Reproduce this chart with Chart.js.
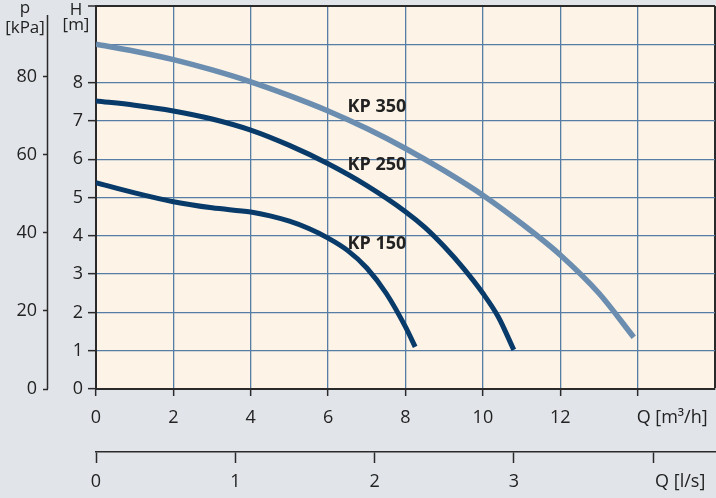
<!DOCTYPE html>
<html>
<head>
<meta charset="utf-8">
<script src="https://cdn.jsdelivr.net/npm/chart.js@4.4.1/dist/chart.umd.min.js"></script>
<style>
    html, body { margin: 0; padding: 0; background: #e1e4e9; }
    #chart { display: block; }
</style>
</head>
<body>
<canvas id="chart" width="716" height="498"></canvas>
<script>
// Kennlinien (Q in m³/h, H in m)
const qKP350 = [0, 1, 2, 3, 4, 5, 6, 7, 8, 9, 10, 11, 12, 13, 13.9];
const hKP350 = [9.0, 8.82, 8.6, 8.33, 8.02, 7.66, 7.26, 6.8, 6.28, 5.7, 5.06, 4.32, 3.5, 2.5, 1.35];

const qKP250 = [0, 1, 2, 3, 4, 5, 6, 7, 8, 8.5, 9, 9.5, 10, 10.4, 10.8];
const hKP250 = [7.52, 7.41, 7.26, 7.05, 6.76, 6.36, 5.88, 5.31, 4.63, 4.22, 3.72, 3.15, 2.5, 1.88, 1.02];

const qKP150 = [0, 1, 2, 3, 4, 4.5, 5, 5.5, 6, 6.5, 7, 7.5, 8, 8.25];
const hKP150 = [5.39, 5.12, 4.89, 4.73, 4.62, 4.52, 4.38, 4.19, 3.94, 3.62, 3.16, 2.5, 1.62, 1.1];

const pumpNames = ['KP 350', 'KP 250', 'KP 150'];
// Beschriftung der Kurven (Q, H)
const nameQ = [6.5, 6.5, 6.5];
const nameH = [7.36, 5.86, 3.8];

const hTicks = [0, 1, 2, 3, 4, 5, 6, 7, 8];
const pTicks = [0, 20, 40, 60, 80];
const qTicks = [0, 2, 4, 6, 8, 10, 12];
const lsTicks = [0, 1, 2, 3];

const H_MAX = 10, Q_MAX = 16;
const KPA_PER_M = 9.81, M3H_PER_LS = 3.6;

const DARK = '#2a2a2a';
const GRID = '#557da6';
const FONT = "'Open Sans', sans-serif";

const toPoints = (qs, hs) => qs.map((q, i) => ({x: q, y: hs[i]}));

const decor = {
    id: 'decor',
    beforeDraw(chart) {
        const {ctx, chartArea: a} = chart;
        ctx.save();
        ctx.fillStyle = '#fdf3e6';
        ctx.fillRect(a.left, a.top, a.right - a.left, a.bottom - a.top);
        ctx.restore();
    },
    afterDraw(chart) {
        const {ctx, scales} = chart;
        const p = scales.p, q = scales.x, ls = scales.ls, h = scales.y;
        ctx.save();
        // p-Achse
        ctx.strokeStyle = DARK;
        ctx.lineWidth = 1.5;
        ctx.beginPath();
        ctx.moveTo(p.right - 0.5, 15);
        ctx.lineTo(p.right - 0.5, p.bottom);
        ctx.stroke();

        ctx.fillStyle = '#222';
        ctx.font = '17px ' + FONT;
        ctx.textAlign = 'center';
        ctx.textBaseline = 'middle';
        ctx.fillText('p', 25, 8);
        ctx.fillText('[kPa]', 25, 28);
        ctx.fillText('H', 76, 10);
        ctx.fillText('[m]', 76, 25);

        // Einheiten an der Q-Achse
        ctx.font = '18px ' + FONT;
        ctx.textAlign = 'left';
        ctx.fillText('Q [m³/h]', q.getPixelForValue(14) - 1, q.top + 7 + 11 + 10.8);
        ctx.fillText('Q [l/s]', ls.getPixelForValue(4) + 2, ls.top + 11 + 8 + 10.8);

        // Pumpennamen
        ctx.font = 'bold 18px ' + FONT;
        pumpNames.forEach((n, i) => {
            ctx.fillText(n, q.getPixelForValue(nameQ[i]), h.getPixelForValue(nameH[i]));
        });
        ctx.restore();
    }
};

const edgeColor = (max, normal) => (c) => (c.tick && Math.abs(c.tick.value - max) < 1e-6) ? DARK : normal;
const noPadY = s => { s.paddingTop = 0; s.paddingBottom = 0; };
const noPadX = s => { s.paddingLeft = 0; s.paddingRight = 0; };

new Chart(document.getElementById('chart'), {
    type: 'scatter',
    data: {
        datasets: [
            {label: pumpNames[0], data: toPoints(qKP350, hKP350), borderColor: '#6a8db0', borderWidth: 5.5},
            {label: pumpNames[1], data: toPoints(qKP250, hKP250), borderColor: '#083a6a', borderWidth: 5},
            {label: pumpNames[2], data: toPoints(qKP150, hKP150), borderColor: '#083a6a', borderWidth: 5}
        ].map(d => Object.assign(d, {
            showLine: true,
            pointRadius: 0,
            pointHoverRadius: 0,
            cubicInterpolationMode: 'monotone',
            borderCapStyle: 'butt'
        }))
    },
    options: {
        responsive: false,
        animation: false,
        events: [],
        layout: {padding: {top: 6, right: 1, left: 0, bottom: 0}},
        plugins: {legend: {display: false}, tooltip: {enabled: false}},
        scales: {
            x: {
                type: 'linear', position: 'bottom', weight: 0,
                min: 0, max: Q_MAX,
                afterBuildTicks: s => { s.ticks = []; for (let v = 0; v <= Q_MAX; v += 2) s.ticks.push({value: v}); },
                afterFit: s => { s.height = 63; noPadX(s); },
                ticks: {
                    color: '#222', font: {family: FONT, size: 18}, padding: 11, maxRotation: 0,
                    callback: v => qTicks.includes(v) ? String(v) : ''
                },
                grid: {
                    color: edgeColor(Q_MAX, GRID), lineWidth: c => (c.tick && c.tick.value === Q_MAX) ? 2 : 1.3,
                    tickLength: 7, tickColor: c => (c.tick && c.tick.value === Q_MAX) ? 'transparent' : DARK, tickWidth: 1.5
                },
                border: {display: true, color: DARK, width: 2}
            },
            ls: {
                type: 'linear', position: 'bottom', weight: 1,
                min: 0, max: Q_MAX / M3H_PER_LS,
                afterBuildTicks: s => { s.ticks = [0, 1, 2, 3, 4].map(v => ({value: v})); },
                afterFit: s => { s.height = 46; noPadX(s); },
                ticks: {
                    color: '#222', font: {family: FONT, size: 18}, padding: 8, maxRotation: 0,
                    callback: v => lsTicks.includes(v) ? String(v) : ''
                },
                grid: {drawOnChartArea: false, tickLength: 11, tickColor: DARK, tickWidth: 1.5},
                border: {display: true, color: DARK, width: 1.5}
            },
            y: {
                type: 'linear', position: 'left', weight: 0,
                min: 0, max: H_MAX,
                afterBuildTicks: s => { s.ticks = []; for (let v = 0; v <= H_MAX; v++) s.ticks.push({value: v}); },
                afterFit: s => { s.width = 48; noPadY(s); },
                ticks: {
                    color: '#222', font: {family: FONT, size: 18}, padding: 5,
                    callback: v => hTicks.includes(v) ? String(v) : ''
                },
                grid: {
                    color: edgeColor(H_MAX, GRID), lineWidth: c => (c.tick && c.tick.value === H_MAX) ? 2 : 1.3,
                    tickLength: 8, tickColor: c => (c.tick && c.tick.value === 9) ? 'transparent' : DARK, tickWidth: 1.5
                },
                border: {display: true, color: DARK, width: 2}
            },
            p: {
                type: 'linear', position: 'left', weight: 1,
                min: 0, max: H_MAX * KPA_PER_M,
                afterBuildTicks: s => { s.ticks = pTicks.map(v => ({value: v})); },
                afterFit: s => { s.width = 48; noPadY(s); },
                ticks: {
                    color: '#222', font: {family: FONT, size: 18}, padding: 6,
                    callback: v => String(v)
                },
                grid: {drawOnChartArea: false, tickLength: 5, tickColor: DARK, tickWidth: 1.5},
                border: {display: false}
            }
        }
    },
    plugins: [decor]
});
</script>
</body>
</html>
